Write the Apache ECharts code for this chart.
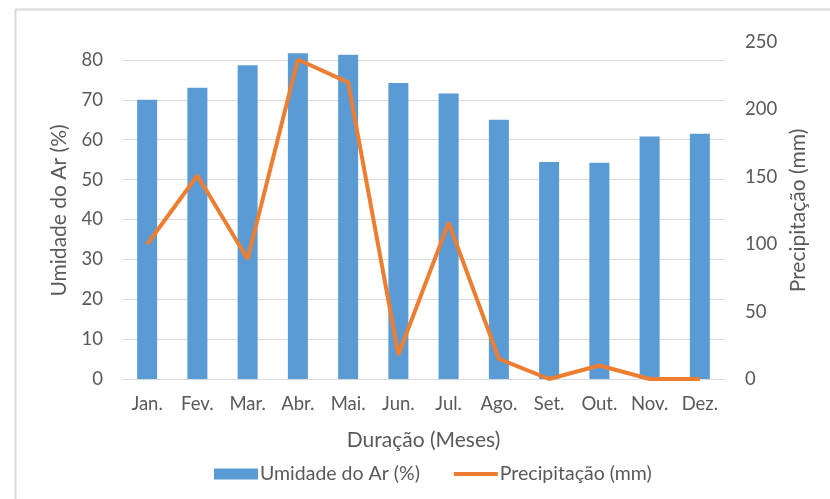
<!DOCTYPE html>
<html>
<head>
<meta charset="utf-8">
<script src="https://cdn.jsdelivr.net/npm/echarts@6/dist/echarts.min.js"></script>
<style>
  html, body { margin: 0; padding: 0; background: #fff; }
</style>
</head>
<body>
<div id="main" style="width: 830px;height:499px;"></div>
<script type="text/javascript">
    // dados
    var meses = ['Jan.', 'Fev.', 'Mar.', 'Abr.', 'Mai.', 'Jun.', 'Jul.', 'Ago.', 'Set.', 'Out.', 'Nov.', 'Dez.'];
    var umidade = [70.0, 73.0, 78.7, 81.7, 81.3, 74.2, 71.6, 65.0, 54.4, 54.2, 60.8, 61.5];
    var precipitacao = [100, 151, 89, 237, 220, 18, 116, 15, 0, 10, 0, 0];

    var corTexto = '#595959';
    var fonte = 'Lato';
    var grade = '#d9d9d9';

    var myChart = echarts.init(document.getElementById('main'));
    var option = {
        animation: false,
        textStyle: { fontFamily: fonte, color: corTexto },
        graphic: [{
            type: 'rect',
            left: 13, top: 7,
            shape: { width: 830, height: 500 },
            style: { fill: 'none', stroke: grade, lineWidth: 2 }
        }],
        grid: { left: 122, right: 105, top: 42, bottom: 120 },
        legend: {
            left: 209,
            top: 459,
            itemWidth: 44,
            itemHeight: 11,
            itemGap: 34,
            textStyle: { fontFamily: fonte, color: corTexto, fontSize: 19.5, padding: [0, 0, 0, -3] },
            data: [
                { name: 'Umidade do Ar (%)', icon: 'rect' },
                { name: 'Precipitação (mm)', icon: 'path://M0,0 L44,0 L44,4 L0,4 Z' }
            ]
        },
        xAxis: {
            type: 'category',
            data: meses,
            name: 'Duração (Meses)',
            nameLocation: 'middle',
            nameGap: 51,
            nameTextStyle: { fontFamily: fonte, color: corTexto, fontSize: 21 },
            axisLine: { lineStyle: { color: grade } },
            axisTick: { show: false },
            axisLabel: { fontFamily: fonte, color: corTexto, fontSize: 18.5, margin: 16 }
        },
        yAxis: [{
            type: 'value',
            min: 0,
            max: 84.5,
            interval: 10,
            name: 'Umidade do Ar (%)',
            nameLocation: 'middle',
            nameGap: 52,
            nameTextStyle: { fontFamily: fonte, color: corTexto, fontSize: 21 },
            axisLine: { show: false },
            axisTick: { show: false },
            axisLabel: { fontFamily: fonte, color: corTexto, fontSize: 18.5, margin: 19, showMaxLabel: false },
            splitLine: {
                lineStyle: {
                    color: [grade, grade, grade, grade, grade, grade, grade, grade, grade, 'rgba(0,0,0,0)']
                }
            }
        }, {
            type: 'value',
            min: 0,
            max: 250,
            interval: 50,
            name: 'Precipitação (mm)',
            nameLocation: 'middle',
            nameGap: 60,
            nameTextStyle: { fontFamily: fonte, color: corTexto, fontSize: 21 },
            axisLine: { show: false },
            axisTick: { show: false },
            axisLabel: { fontFamily: fonte, color: corTexto, fontSize: 18.5, margin: 20 },
            splitLine: { show: false }
        }],
        series: [{
            name: 'Umidade do Ar (%)',
            type: 'bar',
            yAxisIndex: 0,
            barWidth: 20,
            itemStyle: { color: '#5b9bd5' },
            data: umidade
        }, {
            name: 'Precipitação (mm)',
            type: 'line',
            yAxisIndex: 1,
            symbol: 'none',
            lineStyle: { color: '#ed7d31', width: 4 },
            itemStyle: { color: '#ed7d31' },
            z: 3,
            data: precipitacao
        }]
    };
    myChart.setOption(option);
</script>
</body>
</html>
